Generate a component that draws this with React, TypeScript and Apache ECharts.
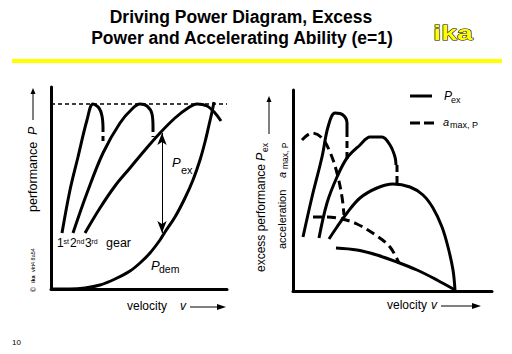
import React, { useEffect, useRef } from "react";
import * as echarts from "echarts";

// ---------- Left panel: driving power diagram (panel units) ----------
const gear1Power = [[11, 56], [19, 99], [27, 132], [36, 169], [42, 185], [48, 181], [51, 173], [52, 162]];
const gear1Cut = [[52, 162], [52, 144]];
const gear2Power = [[22, 56], [36, 96], [52, 136], [69, 166], [82, 181], [89, 185], [96, 183], [101, 175], [102, 162]];
const gear2Cut = [[102, 162], [102, 152]];
const gear3Power = [[34, 56], [49, 81], [64, 103], [79, 121], [94, 139], [109, 156], [124, 171], [137, 181], [146, 185], [156, 183], [164, 176], [170, 168]];
const powerDemand = [[0, 0], [19, 0], [34, 1], [49, 4], [64, 10], [79, 18], [89, 26], [99, 36], [109, 49], [114, 57], [124, 72], [134, 91], [142, 109], [149, 129], [154, 147], [158, 164], [161, 177], [163, 187]];
const maxPowerLine = [[0, 185], [176, 185]];
const excessArrow = [[111, 156], [111, 56]];

// ---------- Right panel: excess power and acceleration (panel units) ----------
const pex1 = [[10, 54], [19, 94], [29, 134], [35, 164], [42, 178], [50, 176], [54, 168], [54, 161]];
const pex1Cut = [[54, 161], [54, 130]];
const pex2 = [[26, 53], [34, 88], [44, 114], [54, 133], [67, 146], [77, 154], [89, 154], [97, 146], [102, 134], [103, 126]];
const pex2Cut = [[104, 126], [104, 108]];
const pex3 = [[36, 52], [44, 64], [54, 78], [67, 93], [84, 103], [100, 107], [117, 104], [130, 96], [140, 83], [149, 64], [155, 44], [160, 21], [162, 1]];
const amax1 = [[9, 151], [19, 158], [29, 153], [37, 139], [44, 118], [49, 94], [51, 76]];
const amax2 = [[20, 74], [34, 74], [49, 72], [64, 67], [84, 55], [97, 44], [106, 28]];
const amax3 = [[43, 43], [64, 41], [84, 36], [104, 29], [124, 21], [144, 11], [162, 1]];

const leftRange = { x: 176, y: 202 };
const rightRange = { x: 199, y: 201 };

const FONT = '"Liberation Sans", Arial, Helvetica, sans-serif';

type TxtOpts = { align?: string; va?: string; italic?: boolean; bold?: boolean; rotate?: number; fill?: string; stroke?: string; lineWidth?: number; scaleX?: number };

function txt(text: string, x: number, y: number, size: number, o: TxtOpts = {}) {
  const align = o.align || "left";
  const va = o.va || "middle";
  const el: any = {
    type: "text",
    x,
    y,
    rotation: o.rotate || 0,
    silent: true,
    style: {
      text,
      fill: o.fill || "#000",
      font: `${o.italic ? "italic " : ""}${o.bold ? "bold " : ""}${size}px ${FONT}`,
      align,
      verticalAlign: va,
      textAlign: align,
      textVerticalAlign: va,
    },
  };
  if (o.stroke) {
    el.style.stroke = o.stroke;
    el.style.lineWidth = o.lineWidth || 1;
  }
  if (o.scaleX) el.scaleX = o.scaleX;
  return el;
}

function vArrowUp(x: number, yBottom: number, yTop: number, w = 1, head = 7, hw = 3) {
  return [
    { type: "line", silent: true, shape: { x1: x, y1: yBottom, x2: x, y2: yTop + head - 1 }, style: { stroke: "#000", lineWidth: w } },
    { type: "polygon", silent: true, shape: { points: [[x - hw, yTop + head], [x + hw, yTop + head], [x, yTop]] }, style: { fill: "#000" } },
  ];
}

function hArrowRight(y: number, x1: number, x2: number, w = 1, head = 9, hw = 3) {
  return [
    { type: "line", silent: true, shape: { x1, y1: y, x2: x2 - head + 1, y2: y }, style: { stroke: "#000", lineWidth: w } },
    { type: "polygon", silent: true, shape: { points: [[x2 - head, y - hw], [x2 - head, y + hw], [x2, y]] }, style: { fill: "#000" } },
  ];
}

function curve(data: number[][], grid: number, dash?: number[] | null, width = 3, smooth: number | boolean = 0.35) {
  return {
    type: "line",
    xAxisIndex: grid,
    yAxisIndex: grid,
    data,
    showSymbol: false,
    symbol: "none",
    smooth,
    silent: true,
    lineStyle: { color: "#000", width, type: dash || "solid" },
  };
}

function axis(gridIndex: number, max: number) {
  return {
    type: "value",
    gridIndex,
    min: 0,
    max,
    axisLine: { show: true, onZero: false, lineStyle: { color: "#000", width: 3 } },
    axisTick: { show: false },
    axisLabel: { show: false },
    splitLine: { show: false },
  };
}

export default function App() {
  const ref = useRef<HTMLDivElement>(null);

  useEffect(() => {
    if (!ref.current) return;
    const chart = echarts.init(ref.current, null, { renderer: "svg" });

    const rot = Math.PI / 2;
    const graphics: any[] = [
      // title
      txt("Driving Power Diagram, Excess", 241, 17, 17.5, { align: "center", bold: true }),
      txt("Power and Accelerating Ability (e=1)", 242, 38, 17.5, { align: "center", bold: true }),
      { type: "rect", silent: true, shape: { x: 12, y: 59, width: 490, height: 4 }, style: { fill: "#ffff00" } },
      txt("ika", 453, 32, 21, { align: "center", bold: true, fill: "#ffff00", stroke: "#000", lineWidth: 1, scaleX: 1.35 }),
      txt("10", 12, 342, 8, { align: "left" }),

      // left panel labels
      txt("performance", 33, 212, 12.5, { rotate: rot }),
      txt("P", 33, 135, 12.5, { rotate: rot, italic: true }),
      ...vArrowUp(33, 120, 88, 1, 6, 2.5),
      txt("\u00A9", 33, 292, 7, { rotate: rot }),
      txt("ika", 33, 283, 5.5, { rotate: rot, bold: true }),
      txt("vkt4 8a54", 33, 272, 5.5, { rotate: rot }),
      txt("velocity", 127, 306, 12, {}),
      txt("v", 180, 306, 12, { italic: true }),
      ...hArrowRight(307, 190, 226),
      txt("P", 172, 162, 13, { italic: true }),
      txt("ex", 181, 170, 11, {}),
      txt("P", 151, 265, 13, { italic: true }),
      txt("dem", 159, 269, 10.5, {}),
      txt("1", 57, 243, 12, {}),
      txt("st", 63.5, 241, 7, {}),
      txt("2", 70, 243, 12, {}),
      txt("nd", 76.5, 241, 7, {}),
      txt("3", 85, 243, 12, {}),
      txt("rd", 91.5, 241, 7, {}),
      txt("gear", 106, 243, 12.5, {}),

      // right panel labels
      txt("excess performance", 261, 272, 12, { rotate: rot }),
      txt("P", 261, 161, 12.5, { rotate: rot, italic: true }),
      txt("ex", 265, 152, 8.5, { rotate: rot }),
      ...vArrowUp(269, 134, 96, 1, 6, 2.5),
      txt("acceleration", 282, 249, 11, { rotate: rot }),
      txt("a", 282, 178, 11, { rotate: rot, italic: true }),
      txt("max, P", 285, 169, 8.5, { rotate: rot }),
      txt("velocity", 387, 305, 12, {}),
      txt("v", 431, 305, 12, { italic: true }),
      ...hArrowRight(306, 441, 481),

      // legend
      { type: "line", silent: true, shape: { x1: 410, y1: 96, x2: 432, y2: 96 }, style: { stroke: "#000", lineWidth: 3 } },
      txt("P", 444, 96, 12, { italic: true }),
      txt("ex", 451, 100, 9, {}),
      { type: "line", silent: true, shape: { x1: 410, y1: 123, x2: 436, y2: 123 }, style: { stroke: "#000", lineWidth: 3, lineDash: [10, 4] } },
      txt("a", 443, 122, 11, { italic: true }),
      txt("max, P", 450, 125, 9, {}),
    ];

    const option: any = {
      animation: false,
      backgroundColor: "#fff",
      grid: [
        { left: 51, top: 87, width: 176, height: 202 },
        { left: 293, top: 90, width: 199, height: 201 },
      ],
      xAxis: [axis(0, leftRange.x), axis(1, rightRange.x)],
      yAxis: [axis(0, leftRange.y), axis(1, rightRange.y)],
      series: [
        {
          ...curve(maxPowerLine, 0, [4, 3], 1.5, false),
          markLine: {
            silent: true,
            symbol: ["arrow", "arrow"],
            symbolSize: [7, 12],
            label: { show: false },
            lineStyle: { color: "#000", width: 1, type: "solid" },
            emphasis: { disabled: true },
            data: [[{ coord: excessArrow[0] }, { coord: excessArrow[1] }]],
          },
        },
        curve(gear1Power, 0),
        curve(gear1Cut, 0, [5, 4], 3, false),
        curve(gear2Power, 0),
        curve(gear2Cut, 0, [5, 4], 3, false),
        curve(gear3Power, 0),
        curve(powerDemand, 0),
        curve(pex1, 1),
        curve(pex1Cut, 1, [7, 4], 3, false),
        curve(pex2, 1),
        curve(pex2Cut, 1, [7, 4], 3, false),
        curve(pex3, 1),
        curve(amax1, 1, [9, 5]),
        curve(amax2, 1, [9, 5]),
        curve(amax3, 1),
      ],
      graphic: graphics,
    };

    chart.setOption(option);
    return () => chart.dispose();
  }, []);

  return (
    <div
      ref={ref}
      style={{ position: "absolute", left: 0, top: 0, width: 512, height: 354, background: "#fff" }}
    />
  );
}
